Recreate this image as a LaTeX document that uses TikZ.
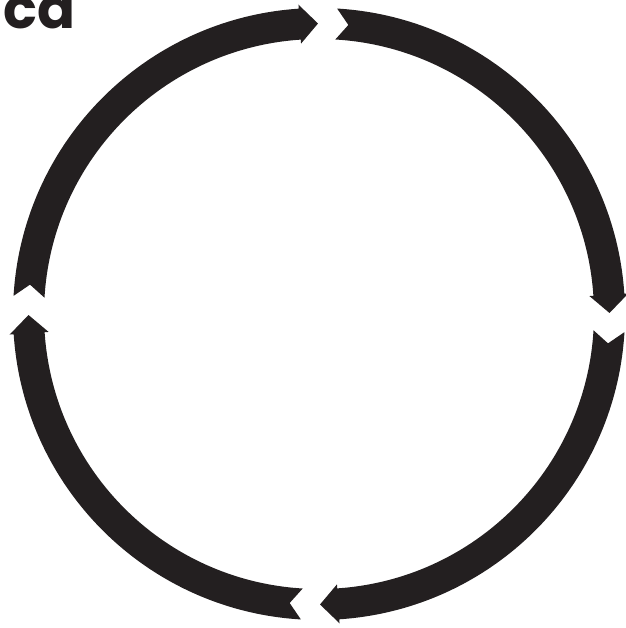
\documentclass[tikz,border=0pt]{standalone}
\usepackage{fontspec}
\usepackage{tikz}
\newfontfamily\labelfont{Poppins}
\definecolor{cycleblack}{RGB}{35,31,32}
\tikzset{
  cyclearrow/.style={fill=cycleblack, draw=none},
  cyclelabel/.style={font=\labelfont\bfseries\fontsize{56}{56}\selectfont,
                     text=cycleblack, inner sep=0pt},
}

\begin{document}
\begin{tikzpicture}[x=1pt,y=1pt]
\useasboundingbox (0,0) rectangle (625,628);
\node[cyclelabel, anchor=base west] (title) at (3,599) {ca};

% four arrows, clockwise
\begin{scope}[shift={(319,314)}]
\foreach \g in {180,90,0,-90}{
  \pgfmathsetmacro{\tl}{\g-3.4}
  \pgfmathsetmacro{\nt}{\g-5.8}
  \pgfmathsetmacro{\hb}{\g-90+3.8}
  \pgfmathsetmacro{\tp}{\g-90+0.2}
  \fill[cyclearrow] (\tl:306pt) arc[start angle=\tl, end angle=\hb, radius=306pt]
     -- (\hb:310pt) -- (\tp:290.5pt) -- (\hb:271pt) -- (\hb:275pt)
     arc[start angle=\hb, end angle=\tl, radius=275pt]
     -- (\nt:290.5pt) -- cycle;
}
\end{scope}
\end{tikzpicture}
\end{document}
